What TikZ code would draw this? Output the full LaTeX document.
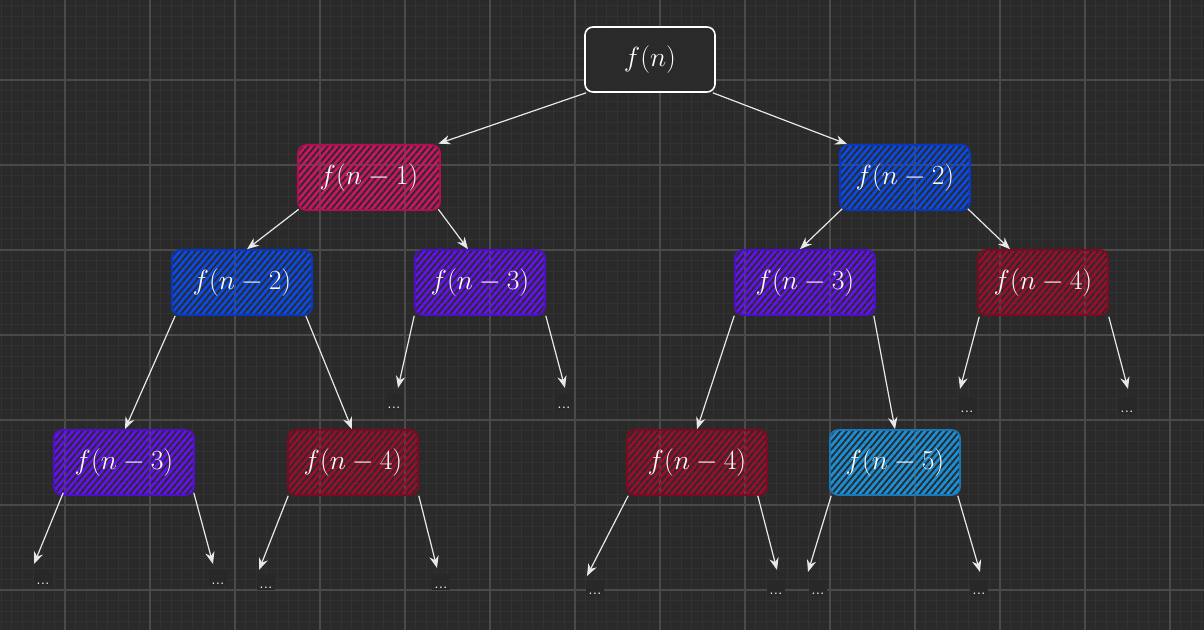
\documentclass[tikz,border=0pt]{standalone}
\usetikzlibrary{arrows.meta,patterns.meta,calc}
\definecolor{bg}{HTML}{2A2A2A}
\definecolor{minorg}{HTML}{323232}
\definecolor{majorg}{HTML}{4A4A4A}
\definecolor{dotbg}{HTML}{282828}
\definecolor{pinkH}{HTML}{CC1463}\definecolor{pinkB}{HTML}{B01050}
\definecolor{blueH}{HTML}{0A4AE6}\definecolor{blueB}{HTML}{0838C0}
\definecolor{purpH}{HTML}{6410F0}\definecolor{purpB}{HTML}{4C10C8}
\definecolor{redH}{HTML}{9C0C2C}\definecolor{redB}{HTML}{7C0A20}
\definecolor{cyanH}{HTML}{1A90D8}\definecolor{cyanB}{HTML}{1878B8}
\definecolor{arrowc}{HTML}{E8E8E8}
\tikzset{
  hbox/.style n args={3}{draw=#1, line width=1.2pt, rounded corners=6pt,
    pattern={Lines[angle=50,distance=3.6pt,line width=2pt]}, pattern color=#2,
    minimum width=#3, minimum height=48.75pt, text=white, font=\huge, inner sep=0pt},
  rootbox/.style={draw=white, line width=1.2pt, rounded corners=6pt, fill=bg,
    minimum width=97.5pt, minimum height=48.75pt, text=white, font=\huge, inner sep=0pt},
  conn/.style={draw=arrowc, line width=0.9pt, -{Stealth[length=9pt,width=7pt]}},
  dotsn/.style={text=white, font=\large, fill=dotbg, inner xsep=1.5pt, inner ysep=1pt,
    text height=10pt, text depth=0pt, anchor=south},
}
\begin{document}
\begin{tikzpicture}[x=0.75pt,y=-0.75pt]
\useasboundingbox (0,0) rectangle (1204,630);
\fill[bg] (0,0) rectangle (1204,630);
\foreach \i in {0,...,113} \draw[minorg, line width=0.6pt] ({1.25+10.625*\i},0) -- ({1.25+10.625*\i},630);
\foreach \i in {0,...,58} \draw[minorg, line width=0.6pt] (0,{5.625+10.625*\i}) -- (1204,{5.625+10.625*\i});
\foreach \k in {0,...,13} \draw[majorg, line width=0.9pt] ({65+85*\k},0) -- ({65+85*\k},630);
\foreach \k in {0,...,6} \draw[majorg, line width=0.9pt] (0,{80+85*\k}) -- (1204,{80+85*\k});

% nodes
\node[rootbox] (root) at (650,59.5) {$f(n)$};
\node[hbox={pinkB}{pinkH}{106.5pt}] (n1) at (369,177.5) {$f(n-1)$};
\node[hbox={blueB}{blueH}{97.5pt}] (n2R) at (905,177.5) {$f(n-2)$};
\node[hbox={blueB}{blueH}{105pt}] (n2L) at (242,282.5) {$f(n-2)$};
\node[hbox={purpB}{purpH}{97.5pt}] (n3a) at (480,282.5) {$f(n-3)$};
\node[hbox={purpB}{purpH}{105pt}] (n3b) at (805,282.5) {$f(n-3)$};
\node[hbox={redB}{redH}{97.5pt}] (n4a) at (1043,282.5) {$f(n-4)$};
\node[hbox={purpB}{purpH}{105pt}] (n3c) at (124,462.5) {$f(n-3)$};
\node[hbox={redB}{redH}{97.5pt}] (n4b) at (353,462.5) {$f(n-4)$};
\node[hbox={redB}{redH}{105pt}] (n4c) at (697,462.5) {$f(n-4)$};
\node[hbox={cyanB}{cyanH}{97.5pt}] (n5) at (895,462.5) {$f(n-5)$};

% dots nodes
\node[dotsn] (d1) at (394,410) {...};
\node[dotsn] (d2) at (564,410) {...};
\node[dotsn] (d3) at (967,414) {...};
\node[dotsn] (d4) at (1127,414) {...};
\node[dotsn] (d5) at (43,586) {...};
\node[dotsn] (d6) at (218,586) {...};
\node[dotsn] (d7) at (266,590) {...};
\node[dotsn] (d8) at (441,590) {...};
\node[dotsn] (d9) at (595,596) {...};
\node[dotsn] (d10) at (776,596) {...};
\node[dotsn] (d11) at (818,596) {...};
\node[dotsn] (d12) at (979,596) {...};

% free ends
\coordinate (t1) at (398,388);
\coordinate (t2) at (565,388);
\coordinate (t3) at (960,389);
\coordinate (t4) at (1128,389);
\coordinate (t5) at (34,564);
\coordinate (t6) at (213,564);
\coordinate (t7) at (259,570);
\coordinate (t8) at (437,568);
\coordinate (t9) at (587,576);
\coordinate (t10) at (777,570);
\coordinate (t11) at (808,572);
\coordinate (t12) at (980,572);

% connectors
\draw[conn] ($(root.south west)+(2,0)$) -- ($(n1.north east)+(-3,0)$);
\draw[conn] ($(root.south east)+(-3,0)$) -- ($(n2R.north west)+(8,0)$);
\draw[conn] ($(n1.south west)+(2,-2)$) -- ($(n2L.north)+(5,0)$);
\draw[conn] ($(n1.south east)+(-3,-2)$) -- ($(n3a.north)+(-12,0)$);
\draw[conn] ($(n2R.south west)+(3,-2)$) -- ($(n3b.north)+(-5,0)$);
\draw[conn] ($(n2R.south east)+(-3,-2)$) -- ($(n4a.north)+(-33,0)$);
\draw[conn] ($(n2L.south west)+(4,0)$) -- ($(n3c.north)+(1,0)$);
\draw[conn] ($(n2L.south east)+(-7,0)$) -- ($(n4b.north)+(-1,0)$);
\draw[conn] ($(n3b.south west)+(0,0)$) -- (n4c.north);
\draw[conn] ($(n3b.south east)+(-2,0)$) -- (n5.north);
\draw[conn] ($(n3a.south west)+(0,0)$) -- (t1);
\draw[conn] ($(n3a.south east)+(0,0)$) -- (t2);
\draw[conn] ($(n4a.south west)+(2,1)$) -- (t3);
\draw[conn] ($(n4a.south east)+(0,1)$) -- (t4);
\draw[conn] ($(n3c.south west)+(10,-3)$) -- (t5);
\draw[conn] ($(n3c.south east)+(-1,-3)$) -- (t6);
\draw[conn] ($(n4b.south west)+(1,0)$) -- (t7);
\draw[conn] ($(n4b.south east)+(0,0)$) -- (t8);
\draw[conn] ($(n4c.south west)+(2,0)$) -- (t9);
\draw[conn] ($(n4c.south east)+(-10,0)$) -- (t10);
\draw[conn] ($(n5.south west)+(2,0)$) -- (t11);
\draw[conn] ($(n5.south east)+(-3,0)$) -- (t12);
\end{tikzpicture}
\end{document}
